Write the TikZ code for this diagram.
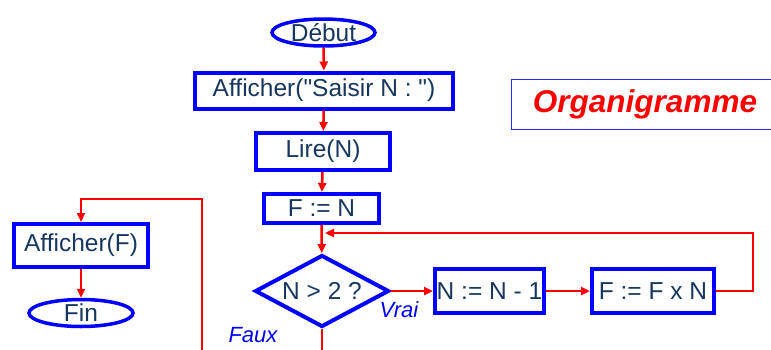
\documentclass[tikz,border=0pt]{standalone}
\usepackage{fontspec}
\setmainfont{Liberation Sans}[Ligatures=TeXOff]
\usetikzlibrary{shapes.geometric,arrows.meta}
\definecolor{navy}{RGB}{23,55,94}
\definecolor{bblue}{RGB}{0,0,255}
\definecolor{rred}{RGB}{255,0,0}
\definecolor{lblue}{RGB}{40,40,255}
\begin{document}
\begin{tikzpicture}[x=1pt,y=-1pt,
  txt/.style={text=navy,font=\fontsize{24.5}{28}\selectfont},
  procbox/.style={txt,draw=bblue,line width=4pt,rectangle,inner sep=0pt},
  term/.style={txt,draw=bblue,line width=3.5pt,ellipse,inner sep=0pt},
  decis/.style={txt,draw=bblue,line width=4pt,diamond,inner sep=0pt,aspect=1.8},
  flow/.style={draw=rred,line width=2.5pt,-{Triangle[length=9pt,width=8pt]}},
  flowline/.style={draw=rred,line width=2.5pt},
  lab/.style={text=bblue,font=\fontsize{22}{26}\selectfont\itshape}
]
\useasboundingbox (0,0) rectangle (771,349);
\node[term,minimum width=103pt,minimum height=27pt] (debut) at (323.5,32.5) {Début};
\node[procbox,minimum width=258pt,minimum height=36pt] (aff1) at (324,90.5) {Afficher("Saisir N : ")};
\node[procbox,minimum width=134pt,minimum height=37pt] (lire) at (323,151.5) {Lire(N)};
\node[procbox,minimum width=115pt,minimum height=29pt] (fn) at (321.5,208.5) {F := N};
\node[decis,minimum width=134pt,minimum height=72pt] (dec) at (322,291) {N > 2 ?};
\node[procbox,minimum width=109pt,minimum height=44pt] (nm1) at (489.5,291) {N := N - 1};
\node[procbox,minimum width=122pt,minimum height=44pt] (ff) at (653,291) {F := F x N};
\node[procbox,minimum width=134pt,minimum height=43pt] (afff) at (81,245.5) {Afficher(F)};
\node[term,minimum width=104pt,minimum height=27pt] (fin) at (81,313) {Fin};
\node[lab] (vrai) at (399,310) {Vrai};
\node[lab] (faux) at (253,335) {Faux};
\node[inner sep=0pt,minimum width=259pt,minimum height=49pt] (org) at (641.5,104.5) {};
\node[text=rred,font=\fontsize{31.5}{36}\selectfont\bfseries\itshape] (orgt) at (645,104) {Organigramme};
\draw[lblue,line width=1.3pt] (org.north east) -- (org.north west) -- (org.south west) -- (org.south east);
% connectors
\draw[flow] (debut) -- (aff1);
\draw[flow] (aff1) -- (lire);
\draw[flow] (lire) -- (fn);
\draw[flow] (fn) -- (dec);
\draw[flow] (dec.east) -- (nm1);
\draw[flow] (nm1) -- (ff);
\coordinate (merge) at (325,233);
\coordinate (loopc) at (753,291);
\draw[flow] (ff.east) -- (loopc) |- (merge);
\coordinate (bot) at (322,351);
\draw[flowline] (dec.south) -- (bot);
\coordinate (lb) at (202,351);
\coordinate (lt) at (202,199);
\draw[flow] (lb) -- (lt) -| (afff.north);
\draw[flow] (afff) -- (fin);
\end{tikzpicture}
\end{document}
